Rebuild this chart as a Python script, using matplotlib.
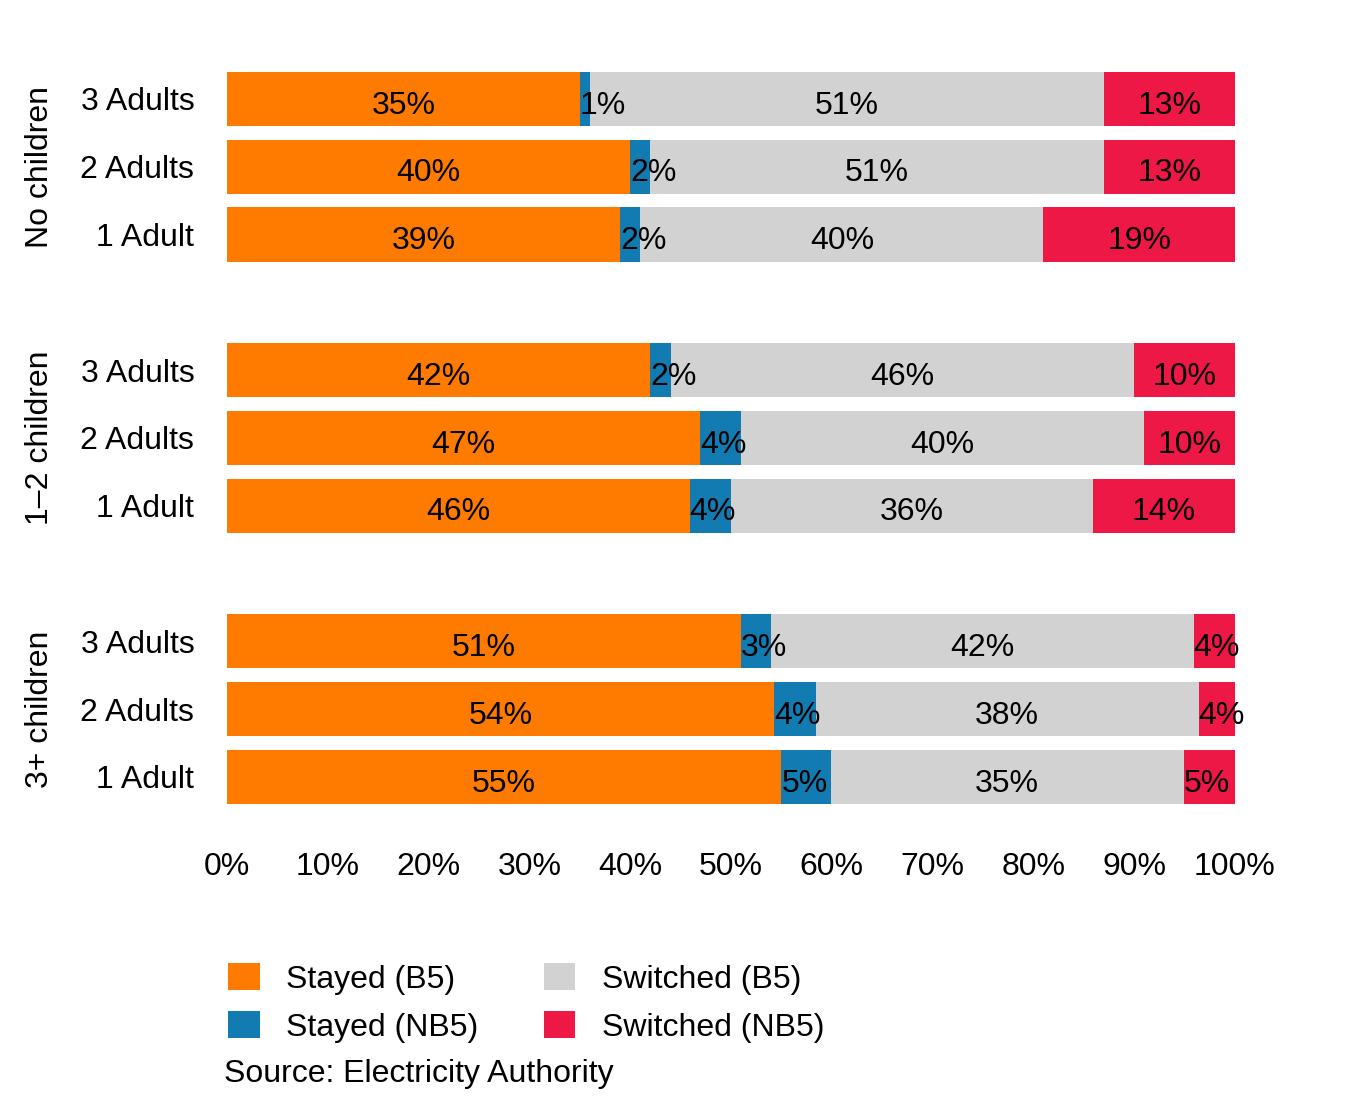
import matplotlib
matplotlib.use("Agg")
import matplotlib.pyplot as plt
from matplotlib.patches import Patch
from matplotlib.transforms import blended_transform_factory

plt.rcParams['font.family'] = ['Liberation Sans', 'DejaVu Sans']

# ---------------- data ----------------
groups = ["No children", "1\u20132 children", "3+ children"]
rows = ["3 Adults", "2 Adults", "1 Adult"]
series = ["Stayed (B5)", "Stayed (NB5)", "Switched (B5)", "Switched (NB5)"]

# bar lengths (percent), ordered group by group, rows top to bottom
stayed_b5 = [35, 40, 39, 42, 46.9, 45.9, 51, 54.3, 55]
stayed_nb5 = [1, 2, 2, 2, 4.1, 4.1, 3, 4.1, 4.9]
switched_b5 = [51, 45, 40, 46, 40.0, 35.9, 41.9, 38.0, 35.0]
switched_nb5 = [13, 13, 19, 10, 9.0, 14.1, 4.1, 3.6, 5.1]

# printed labels (percent), as shown on the chart
stayed_b5_lbl = [35, 40, 39, 42, 47, 46, 51, 54, 55]
stayed_nb5_lbl = [1, 2, 2, 2, 4, 4, 3, 4, 5]
switched_b5_lbl = [51, 51, 40, 46, 40, 36, 42, 38, 35]
switched_nb5_lbl = [13, 13, 19, 10, 10, 14, 4, 4, 5]

x_ticks = [0, 10, 20, 30, 40, 50, 60, 70, 80, 90, 100]

colors = ["#FF7B00", "#127BB1", "#D2D2D2", "#EE1846"]

# ---------------- figure ----------------
W, H = 1351, 1118
fig = plt.figure(figsize=(W / 100, H / 100), dpi=100)
ax = fig.add_axes([227 / W, 1 - 817.6 / H, (1235 - 227) / W, (817.6 - 58.2) / H])

FS = 23
slots_per_group = len(rows) + 1
ypos = [g * slots_per_group + r for g in range(len(groups)) for r in range(len(rows))]

values = [stayed_b5, stayed_nb5, switched_b5, switched_nb5]
labels = [stayed_b5_lbl, stayed_nb5_lbl, switched_b5_lbl, switched_nb5_lbl]

left = [0.0] * len(ypos)
for s, (vals, lbls, col) in enumerate(zip(values, labels, colors)):
    ax.barh(ypos, vals, left=left, height=0.8, color=col, label=series[s], linewidth=0)
    for i, (y, v, lb) in enumerate(zip(ypos, vals, lbls)):
        start = left[i]
        if v < 6:
            ax.text(start, y + 0.1, f"{lb}%", ha="left", va="center", fontsize=FS, color="black")
        else:
            ax.text(start + v / 2, y + 0.1, f"{lb}%", ha="center", va="center", fontsize=FS, color="black")
    left = [a + b for a, b in zip(left, vals)]

ax.set_xlim(0, 100)
ax.set_ylim(len(groups) * slots_per_group - 1 - 0.4, -0.6)
ax.set_xticks(x_ticks)
ax.set_xticklabels([f"{t}%" for t in x_ticks], fontsize=FS)
ax.set_yticks(ypos)
ax.set_yticklabels(rows * len(groups), fontsize=FS)
ax.tick_params(axis="x", length=0, pad=25)
ax.tick_params(axis="y", length=0, pad=23.5)
for sp in ax.spines.values():
    sp.set_visible(False)

trans = blended_transform_factory(fig.transFigure, ax.transData)
for g, name in enumerate(groups):
    yc = g * slots_per_group + (len(rows) - 1) / 2
    ax.text(40.5 / W, yc, name, transform=trans, rotation=90, ha="center", va="center", fontsize=FS)

handles = [Patch(facecolor=c, edgecolor="none", label=l) for c, l in zip(colors, series)]
fig.legend(handles=handles, loc="upper left", bbox_to_anchor=(222 / W, 1 - 957 / H), ncol=2,
           frameon=False, fontsize=FS, handlelength=0.98, handleheight=0.92, handletextpad=0.83,
           columnspacing=2.05, labelspacing=0.52, borderpad=0.2, borderaxespad=0)

fig.text(224 / W, 1 - 1074 / H, "Source: Electricity Authority", ha="left", va="center", fontsize=FS)

fig.savefig("out.png", dpi=100, facecolor="white")
